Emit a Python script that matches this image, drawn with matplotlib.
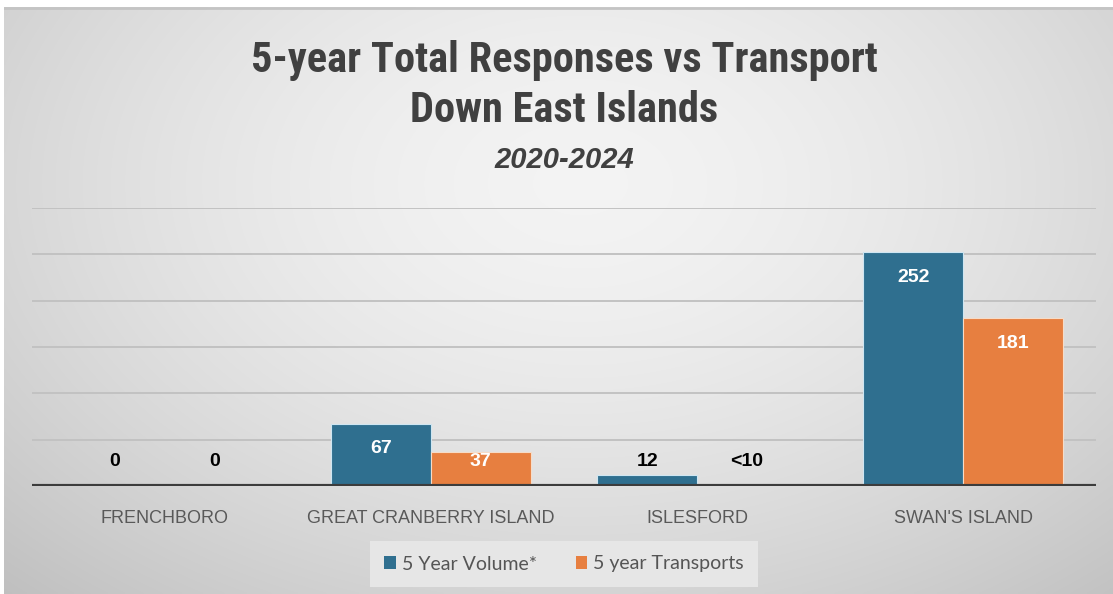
import numpy as np
import matplotlib
matplotlib.use("Agg")
import matplotlib.pyplot as plt
from matplotlib.patches import Patch
from matplotlib import font_manager

W, H = 1113, 594

# Data
islands = ["FRENCHBORO", "GREAT CRANBERRY ISLAND", "ISLESFORD", "SWAN'S ISLAND"]
volume = [0, 67, 12, 252]
transports = [0, 37, 0, 181]
volume_labels = ["0", "67", "12", "252"]
transport_labels = ["0", "37", "<10", "181"]
series_names = ["5 Year Volume*", "5 year Transports"]
y_ticks = [0, 50, 100, 150, 200, 250, 300]

BLUE = "#2f6f8f"
ORANGE = "#e77f40"
TEXT = "#404040"

installed = {f.name for f in font_manager.fontManager.ttflist}
title_font = next((f for f in ["Liberation Sans Narrow", "Roboto Condensed",
                               "Open Sans Condensed", "Lato"] if f in installed), "DejaVu Sans")

fig = plt.figure(figsize=(W / 100, H / 100), dpi=100, facecolor="white")


def fx(px):
    return px / W


def fy(py):
    return 1 - py / H


# Soft radial gradient background
bg = fig.add_axes([fx(4), 0, 1 - fx(4), fy(7)], zorder=-10)
gx, gy = np.meshgrid(np.linspace(0, 1, 400), np.linspace(0, 1, 220))
d = np.sqrt(((gx - 0.52) / 0.75) ** 2 + ((gy - 0.3) / 0.95) ** 2)
shade = 0.955 - 0.20 * np.clip(d, 0, 1.2) ** 1.6
bg.imshow(np.dstack([shade] * 3), aspect="auto", extent=[0, 1, 1, 0],
          interpolation="bilinear")
bg.set_xlim(0, 1)
bg.set_ylim(1, 0)
bg.axis("off")
bg.axhline(0.002, color="#c4c4c4", lw=2)

# Main bar axes
ax = fig.add_axes([fx(32), fy(486), fx(1096) - fx(32), fy(208) - fy(486)])
ax.patch.set_alpha(0)
x = np.arange(len(islands))
bw = 0.375
b1 = ax.bar(x - bw / 2, volume, bw, color=BLUE, edgecolor="#cfe6f2", lw=0.8, zorder=3)
b2 = ax.bar(x + bw / 2, transports, bw, color=ORANGE, edgecolor="#f6dcc8", lw=0.8, zorder=3)

ax.set_xlim(-0.5, len(islands) - 0.5)
ax.set_ylim(0, 300)
for t in y_ticks[1:]:
    ax.axhline(t, color="#c2c2c2", lw=1.4, zorder=1)
ax.axhline(0, color="#3c3c3c", lw=3, zorder=4)
for s in ax.spines.values():
    s.set_visible(False)
ax.set_yticks([])
ax.set_xticks(x)
ax.set_xticklabels(islands, fontsize=13, color="#595959", family="Liberation Sans")
ax.tick_params(axis="x", length=0, pad=17)

# Value labels: just below the bar top, never lower than a minimum height
lab_drop = 27
lab_min = 26
for bars, vals, labs in ((b1, volume, volume_labels), (b2, transports, transport_labels)):
    for bar, v, lab in zip(bars, vals, labs):
        ypos = max(v - lab_drop, lab_min)
        col = "white" if v > 30 else "black"
        ax.text(bar.get_x() + bar.get_width() / 2, ypos, lab, ha="center", va="center",
                fontsize=14, fontweight="bold", color=col, family="Liberation Sans", zorder=5)

# Titles
fig.text(fx(564), fy(72), "5-year Total Responses vs Transport", ha="center", va="baseline",
         fontsize=30.5, fontweight="bold", color=TEXT, family=title_font)
fig.text(fx(564), fy(122), "Down East Islands", ha="center", va="baseline",
         fontsize=30.5, fontweight="bold", color=TEXT, family=title_font)
fig.text(fx(564), fy(168), "2020-2024", ha="center", va="baseline",
         fontsize=21, fontweight="bold", style="italic", color=TEXT,
         family="Liberation Sans")

# Legend
handles = [Patch(facecolor=BLUE, label=series_names[0]),
           Patch(facecolor=ORANGE, label=series_names[1])]
leg = fig.legend(handles=handles, loc="center", bbox_to_anchor=(fx(564), fy(564)),
                 ncol=2, frameon=True, fancybox=False, facecolor="#e6e6e6",
                 edgecolor="none", framealpha=1, handlelength=0.6, handleheight=0.6,
                 handletextpad=0.3, columnspacing=2.0, borderpad=0.75,
                 prop={"family": "Lato", "size": 14})
for t in leg.get_texts():
    t.set_color("#555555")

fig.savefig("out.png", dpi=100, facecolor=fig.get_facecolor())
